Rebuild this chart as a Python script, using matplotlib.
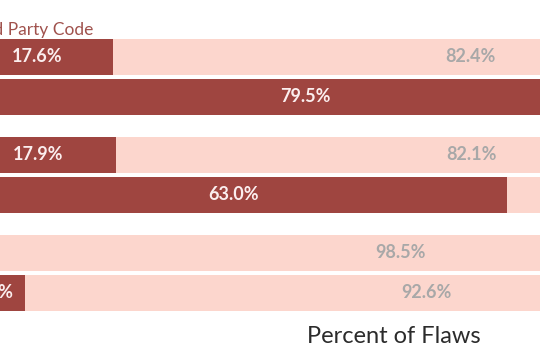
import matplotlib
matplotlib.use("Agg")
import matplotlib.pyplot as plt

# Data (percent of flaws)
rows = ["Group A - 1", "Group A - 2", "Group B - 1", "Group B - 2", "Group C - 1", "Group C - 2"]
dark_vals = [17.6, 79.5, 17.9, 63.0, 1.5, 7.4]
light_vals = [82.4, 20.5, 82.1, 37.0, 98.5, 92.6]
group_label = "Third Party Code"
xlabel = "Percent of Flaws"

ypos = [0, 1, 2.45, 3.45, 4.9, 5.9]

DARK = "#9f4540"
LIGHT = "#fcd6cd"
GRAY = "#a8a8a8"

fig = plt.figure(figsize=(5.4, 3.6), dpi=100)
W, H = 540, 360
left_px, right_px = -39, 827
top_px, bot_px = 30, 318
ax = fig.add_axes([left_px / W, (H - bot_px) / H, (right_px - left_px) / W, (bot_px - top_px) / H])

ax.barh(ypos, dark_vals, height=0.92, color=DARK, edgecolor="none")
ax.barh(ypos, light_vals, left=dark_vals, height=0.92, color=LIGHT, edgecolor="none")

for y, d, l in zip(ypos, dark_vals, light_vals):
    ax.text(d / 2, y, f"{d:.1f}%", ha="center", va="center", color="#fbeeee",
            fontsize=13, fontweight="bold", family="Lato")
    ax.text(d + l / 2, y, f"{l:.1f}%", ha="center", va="center", color=GRAY,
            fontsize=13, fontweight="bold", family="Lato")

ax.text(15.33, -0.55, group_label, ha="right", va="baseline", color="#a0524d",
        fontsize=12.5, family="Lato")

ax.set_xlim(0, 100)
ax.set_ylim((bot_px - 57) / 40, (top_px - 57) / 40)
ax.set_xlabel(xlabel, fontsize=17, family="Lato", color="#2b2b2b", labelpad=6)
ax.set_yticks([])
ax.set_xticks([])
for s in ax.spines.values():
    s.set_visible(False)

fig.savefig("out.png", dpi=100)
